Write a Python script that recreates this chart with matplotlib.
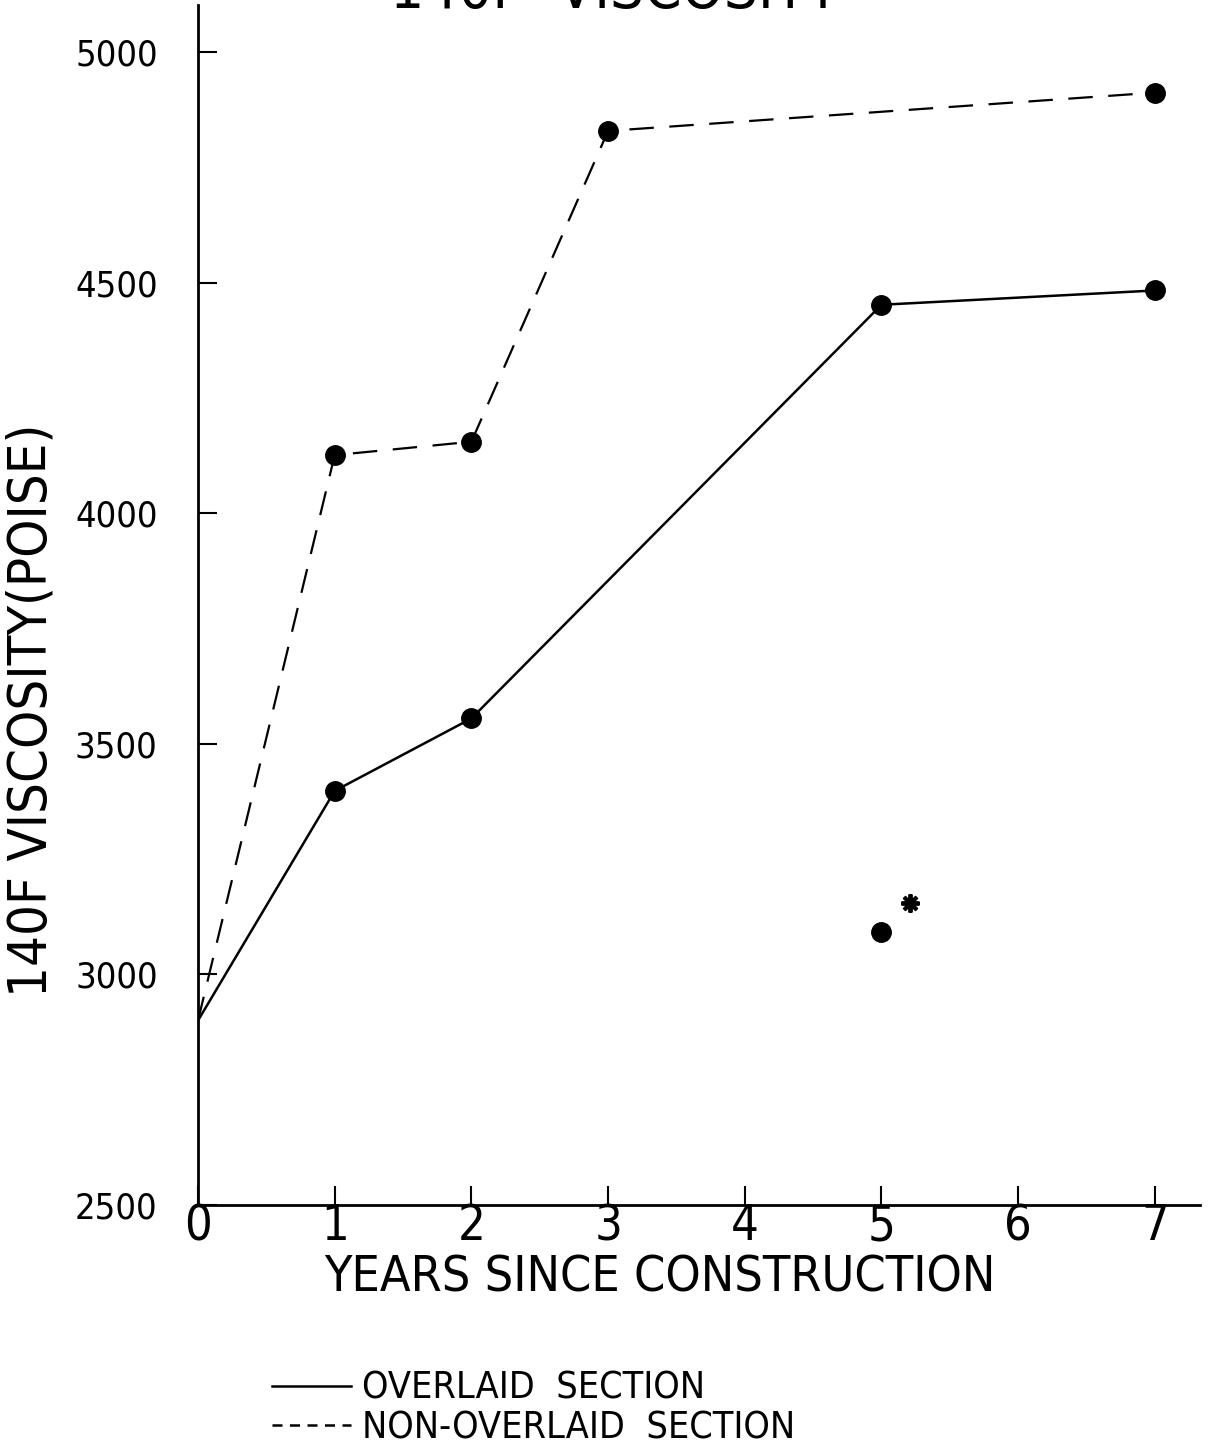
import matplotlib.pyplot as plt
from matplotlib.lines import Line2D

plt.rcParams['font.family'] = ['DejaVu Sans']
plt.rcParams['font.stretch'] = 'condensed'

years = [0, 1, 2, 3, 4, 5, 6, 7]
visc_ticks = [2500, 3000, 3500, 4000, 4500, 5000]

# overlaid section (solid)
ov_years = [0, 1, 2, 5, 7]
ov_visc = [2900, 3398, 3555, 4452, 4483]

# non-overlaid section (dashed)
non_years = [0, 1, 2, 3, 7]
non_visc = [2900, 4126, 4155, 4829, 4912]

# the odd point marked with an asterisk
odd_year = [5]
odd_visc = [3093]
star_year = [5.21]
star_visc = [3155]

fig = plt.figure(figsize=(12.09, 14.47), dpi=100)
ax = fig.add_axes([198 / 1209, 242 / 1447, 1002 / 1209, 1200 / 1447])

ax.plot(ov_years, ov_visc, color='black', lw=1.8)
ax.plot(ov_years[1:], ov_visc[1:], 'o', color='black', ms=14)
ax.plot(non_years, non_visc, color='black', lw=1.6, dashes=(11, 7))
ax.plot(non_years[1:], non_visc[1:], 'o', color='black', ms=14)
ax.plot(odd_year, odd_visc, 'o', color='black', ms=14)
ax.plot(star_year, star_visc, marker=(8, 2, 0), color='black', ms=13, mew=2.8, ls='none')

ax.set_xlim(0, 7.33)
ax.set_ylim(2500, 5102)
ax.set_xticks(years)
ax.set_xticklabels([str(y) for y in years], fontsize=35)
ax.set_yticks(visc_ticks)
ax.set_yticklabels([str(v) for v in visc_ticks], fontsize=26)
ax.tick_params(axis='both', direction='in', length=14, width=1.5, color='black')
ax.tick_params(axis='x', pad=-2)
ax.tick_params(axis='y', pad=29)
for s in ['top', 'right']:
    ax.spines[s].set_visible(False)
for s in ['left', 'bottom']:
    ax.spines[s].set_linewidth(2)

fig.text(615 / 1209, 1 - 8 / 1447, '140F  VISCOSITY', fontsize=43, ha='center', va='baseline')
fig.text(660 / 1209, 1 - 1278 / 1447, 'YEARS SINCE CONSTRUCTION', fontsize=36, ha='center', va='center')
fig.text(32 / 1209, 1 - 710 / 1447, '140F VISCOSITY(POISE)', fontsize=39, ha='center', va='center',
         rotation=90)

handles = [Line2D([], [], color='black', lw=1.8),
           Line2D([], [], color='black', lw=1.8, dashes=(4, 3))]
fig.legend(handles, ['OVERLAID  SECTION', 'NON-OVERLAID  SECTION'], loc='upper left',
           bbox_to_anchor=(238 / 1209, 1 - 1337 / 1447), frameon=False, fontsize=27,
           handlelength=2.1, handletextpad=0.3, labelspacing=0.1)

fig.savefig('out.png', dpi=100)
